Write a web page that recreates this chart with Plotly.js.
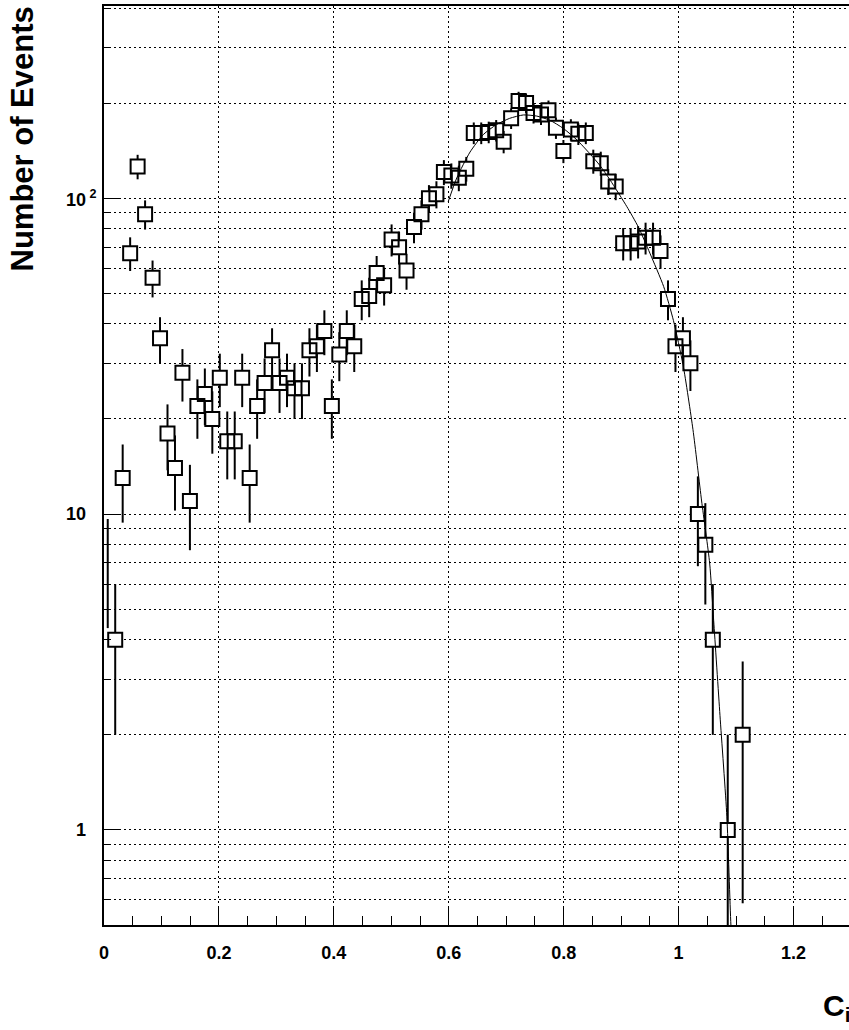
<!DOCTYPE html>
<html>
<head>
<meta charset="utf-8">
<script src="https://cdn.plot.ly/plotly-3.0.1.min.js"></script>
<style>
  html, body { margin: 0; padding: 0; background: #fff; overflow: hidden; }
  #chart { width: 851px; height: 1030px; }
</style>
</head>
<body>
<div id="chart"></div>
<script>
// ---- Data (histogram of C_i, 0.013 wide bins) ----
const binCenters = [0.0065, 0.0195, 0.0325, 0.0455, 0.0585, 0.0715, 0.0845, 0.0975, 0.1105, 0.1235,
  0.1365, 0.1495, 0.1625, 0.1755, 0.1885, 0.2015, 0.2145, 0.2275, 0.2405, 0.2535,
  0.2665, 0.2795, 0.2925, 0.3055, 0.3185, 0.3315, 0.3445, 0.3575, 0.3705, 0.3835,
  0.3965, 0.4095, 0.4225, 0.4355, 0.4485, 0.4615, 0.4745, 0.4875, 0.5005, 0.5135,
  0.5265, 0.5395, 0.5525, 0.5655, 0.5785, 0.5915, 0.6045, 0.6175, 0.6305, 0.6435,
  0.6565, 0.6695, 0.6825, 0.6955, 0.7085, 0.7215, 0.7345, 0.7475, 0.7605, 0.7735,
  0.7865, 0.7995, 0.8125, 0.8255, 0.8385, 0.8515, 0.8645, 0.8775, 0.8905, 0.9035,
  0.9165, 0.9295, 0.9425, 0.9555, 0.9685, 0.9815, 0.9945, 1.0075, 1.0205, 1.0335,
  1.0465, 1.0595, 1.0725, 1.0855, 1.0985, 1.1115];

const counts = [7, 4, 13, 67, 126, 89, 56, 36, 18, 14,
  28, 11, 22, 24, 20, 27, 17, 17, 27, 13,
  22, 26, 33, 26, 27, 25, 25, 33, 34, 38,
  22, 32, 38, 34, 48, 49, 58, 53, 74, 70,
  59, 81, 89, 100, 103, 121, 118, 116, 124, 161,
  161, 162, 164, 151, 179, 203, 200, 186, 184, 190,
  167, 141, 165, 160, 161, 131, 129, 113, 109, 72,
  72, 73, 75, 75, 68, 48, 34, 36, 30, 10,
  8, 4, 0, 1, 0, 2];

// fit curve
const fitX = [0.599, 0.614, 0.637, 0.660, 0.683, 0.706, 0.730, 0.753, 0.776, 0.799,
  0.823, 0.846, 0.863, 0.881, 0.910, 0.930, 0.950, 0.974, 0.991, 1.008,
  1.025, 1.040, 1.054, 1.061, 1.072, 1.084, 1.091, 1.095];
const fitY = [97.5, 116, 140, 159, 171, 179, 183.5, 182, 176.5, 166.5,
  153, 138, 127, 114, 94, 81, 67, 52.5, 41, 29.5,
  18.5, 11, 7, 4.6, 2.3, 1.1, 0.5, 0.38];

// axis tick values
const xTickVals = [0, 0.2, 0.4, 0.6, 0.8, 1, 1.2];
const xTickText = ['0', '0.2', '0.4', '0.6', '0.8', '1', '1.2'];
const yMajorVals = [1, 10, 100];
const yMajorText = ['1', '10', '10<sup> 2</sup>'];
const yMinorVals = [0.6, 0.7, 0.8, 0.9, 2, 3, 4, 5, 6, 7, 8, 9,
  20, 30, 40, 50, 60, 70, 80, 90, 200, 300, 400];

// ---- Build traces ----
const errs = counts.map(v => Math.sqrt(v));
const X = binCenters.slice(1), Y = counts.slice(1), E = errs.slice(1);

const errStyle = {type: 'data', visible: true, color: '#000', thickness: 2, width: 0};

const traces = [
  { // first bin: error bar only (marker not drawn at the frame edge)
    x: binCenters.slice(0, 1), y: counts.slice(0, 1), type: 'scatter', mode: 'markers',
    marker: {size: 1, color: 'rgba(0,0,0,0)'},
    error_y: Object.assign({array: errs.slice(0, 1)}, errStyle),
    hoverinfo: 'skip', showlegend: false, cliponaxis: false
  },
  { // error bars + white interior
    x: X, y: Y, type: 'scatter', mode: 'markers',
    marker: {symbol: 'square', size: 14, color: '#fff', line: {width: 0}},
    error_y: Object.assign({array: E}, errStyle),
    showlegend: false, cliponaxis: true
  },
  { // open square outlines
    x: X, y: Y, type: 'scatter', mode: 'markers',
    marker: {symbol: 'square-open', size: 14, color: '#000', line: {width: 2, color: '#000'}},
    showlegend: false, cliponaxis: true
  },
  { // fit
    x: fitX, y: fitY, type: 'scatter', mode: 'lines',
    line: {color: '#000', width: 1, shape: 'spline', smoothing: 0.6},
    showlegend: false, hoverinfo: 'skip'
  }
];

const fontFam = '"Liberation Sans", Arial, Helvetica, sans-serif';

const annotations = [];
yMajorVals.forEach((v, i) => {
  const sup = yMajorText[i].indexOf('<sup>') >= 0;
  annotations.push({
    xref: 'paper', yref: 'y', x: 0, y: Math.log10(v),
    text: yMajorText[i], showarrow: false,
    xanchor: sup ? 'left' : 'right', yanchor: 'middle',
    xshift: sup ? -40 : -16,
    font: {family: fontFam, size: 18, color: '#000', weight: 'bold'}
  });
});
annotations.push({
  xref: 'paper', yref: 'paper', x: 0, y: 1, xshift: -82, yshift: 1,
  xanchor: 'center', yanchor: 'top', textangle: -90,
  text: 'Number of Events', showarrow: false,
  font: {family: fontFam, size: 31, color: '#000', weight: 'bold'}
});
annotations.push({
  xref: 'paper', yref: 'paper', x: 1, y: 0, xshift: 2, yshift: -82,
  xanchor: 'right', yanchor: 'middle',
  text: 'C<sub>i</sub>', showarrow: false,
  font: {family: fontFam, size: 30, color: '#000', weight: 'bold'}
});

const layout = {
  width: 851, height: 1030,
  margin: {l: 104, r: 0, t: 6, b: 105, pad: 0},
  paper_bgcolor: '#fff', plot_bgcolor: '#fff',
  showlegend: false,
  xaxis: {
    range: [0, 1.3], type: 'linear',
    tickmode: 'array', tickvals: xTickVals, ticktext: xTickText,
    ticks: 'inside', ticklen: 18, tickwidth: 1, tickcolor: '#000',
    showline: true, linewidth: 2, linecolor: '#000', mirror: true,
    showgrid: true, gridcolor: '#000', gridwidth: 1, griddash: '2px,3px',
    zeroline: false,
    tickfont: {family: fontFam, size: 18, color: '#000', weight: 'bold'},
    ticklabelstandoff: 10,
    minor: {dtick: 0.05, tick0: 0, ticks: 'inside', ticklen: 9, tickwidth: 1, tickcolor: '#000', showgrid: false}
  },
  yaxis: {
    type: 'log', range: [Math.log10(0.5), Math.log10(406)],
    tickmode: 'array', tickvals: yMajorVals, ticktext: yMajorText,
    showticklabels: false,
    ticks: 'inside', ticklen: 15, tickwidth: 1, tickcolor: '#000',
    showline: true, linewidth: 2, linecolor: '#000', mirror: false,
    showgrid: true, gridcolor: '#000', gridwidth: 1, griddash: '2px,3px',
    zeroline: false,
    minor: {tickmode: 'array', tickvals: yMinorVals, ticks: 'inside', ticklen: 7, tickwidth: 1, tickcolor: '#000',
      showgrid: true, gridcolor: '#000', gridwidth: 1, griddash: '2px,3px'}
  },
  annotations: annotations
};

Plotly.newPlot('chart', traces, layout, {staticPlot: true, displayModeBar: false});
</script>
</body>
</html>
